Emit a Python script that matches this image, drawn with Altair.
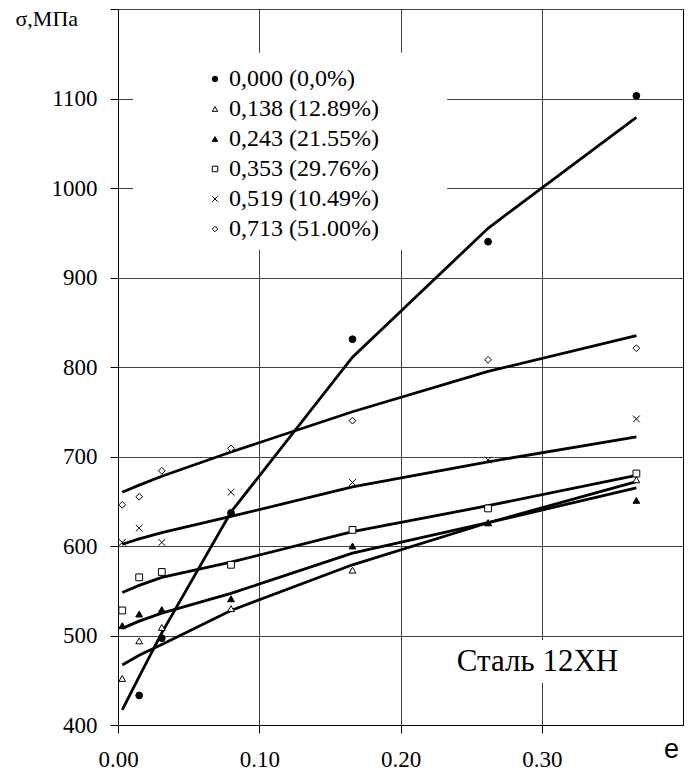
import altair as alt
import pandas as pd

# ---- data ----
strain = [0.003, 0.015, 0.031, 0.080, 0.166, 0.262, 0.367]
series = ["0,000 (0,0%)", "0,138 (12.89%)", "0,243 (21.55%)",
          "0,353 (29.76%)", "0,519 (10.49%)", "0,713 (51.00%)"]

meas_000 = [None, 433, 497, 637, 831, 940, 1103]
meas_138 = [452, 494, 509, 530, 573, 626, 674]
meas_243 = [511, 524, 529, 541, 600, 626, 651]
meas_353 = [528, 565, 571, 579, 618, 642, 681]
meas_519 = [604, 620, 604, 660, 671, 696, 742]
meas_713 = [646, 655, 684, 709, 740, 808, 821]

fit_000 = [417, 454, 503, 638, 811, 955, 1079]
fit_138 = [467, 478, 490, 528, 579, 626, 672]
fit_243 = [508, 516, 525, 547, 592, 626, 665]
fit_353 = [548, 556, 565, 582, 616, 645, 679]
fit_519 = [602, 608, 615, 633, 666, 694, 722]
fit_713 = [660, 668, 678, 705, 750, 795, 835]

x_ticks = [0.0, 0.1, 0.2, 0.3]
y_ticks = [400, 500, 600, 700, 800, 900, 1000, 1100, 1200]
note_text = "Сталь 12ХН"

measured = [meas_000, meas_138, meas_243, meas_353, meas_519, meas_713]
fitted = [fit_000, fit_138, fit_243, fit_353, fit_519, fit_713]

pts = pd.DataFrame([
    {"e": e, "s": v, "series": name}
    for name, vals in zip(series, measured)
    for e, v in zip(strain, vals) if v is not None
])
fits = pd.DataFrame([
    {"e": e, "s": v, "series": name}
    for name, vals in zip(series, fitted)
    for e, v in zip(strain, vals)
])

# ---- styling ----
SERIF = "Liberation Serif, Times New Roman, serif"
SANS = "Liberation Sans, Arial, sans-serif"
xscale = alt.Scale(domain=[0, 0.4], nice=False, zero=False)
yscale = alt.Scale(domain=[400, 1200], nice=False, zero=False)

xaxis = alt.Axis(values=x_ticks, format=".2f", title="e", grid=True,
                 gridColor="#404040", gridWidth=1, domainColor="black",
                 tickColor="black", tickSize=8, labelFont=SERIF,
                 labelFontSize=23, labelColor="black", labelPadding=15,
                 labelFlush=False, labelOverlap=False,
                 titleFont=SANS, titleFontSize=27,
                 titleFontWeight="normal", titleColor="black",
                 titleX=553, titleY=24, titleAlign="center",
                 titleBaseline="middle")
yaxis = alt.Axis(values=y_ticks, format="d", title="σ,МПа", grid=True,
                 gridColor="#404040", gridWidth=1, domainColor="black",
                 tickColor="black", tickSize=8, labelFont=SERIF,
                 labelFontSize=23, labelColor="black", labelPadding=13,
                 labelExpr="datum.value == 1200 ? '' : datum.label",
                 labelFlush=False, labelOverlap=False,
                 titleFont=SERIF, titleFontSize=22, titleFontWeight="normal",
                 titleColor="black", titleAngle=0, titleX=-103, titleY=9,
                 titleAlign="left", titleBaseline="middle")

X = alt.X("e:Q", scale=xscale, axis=xaxis)
Y = alt.Y("s:Q", scale=yscale, axis=yaxis)

# white panels behind the legend and the note (annotation boxes)
boxes = pd.DataFrame([
    {"e": 0.0106, "e2": 0.233, "s": 931, "s2": 1151},
    {"e": 0.238, "e2": 0.366, "s": 447, "s2": 495},
])
box_layer = alt.Chart(boxes).mark_rect(fill="white", stroke=None).encode(
    x=X, x2="e2:Q", y=Y, y2="s2:Q")

line_layer = alt.Chart(fits).mark_line(color="black", strokeWidth=2.8).encode(
    x=X, y=Y, detail="series:N")

shapes = ["circle", "triangle-up", "triangle-up", "square",
          "M-1,-1L1,1M-1,1L1,-1", "diamond"]
fills = ["black", "white", "black", "white", "black", "white"]
strokes = ["black"] * 6
legend = alt.Legend(orient="none", legendX=85, legendY=58, title=None,
                    labelFont=SERIF, labelFontSize=24, labelColor="black",
                    symbolSize=30, symbolStrokeWidth=1,
                    rowPadding=6, labelOffset=2,
                    padding=0, labelLimit=400)

point_layer = alt.Chart(pts).mark_point(
    strokeWidth=1, size=46, opacity=1, fillOpacity=1).encode(
    x=X, y=Y,
    shape=alt.Shape("series:N", scale=alt.Scale(domain=series, range=shapes),
                    legend=legend),
    fill=alt.Fill("series:N", scale=alt.Scale(domain=series, range=fills),
                  legend=legend),
    stroke=alt.Stroke("series:N", scale=alt.Scale(domain=series, range=strokes),
                      legend=legend),
)

note = pd.DataFrame([{"e": 0.297, "s": 470, "t": note_text}])
note_layer = alt.Chart(note).mark_text(
    font=SERIF, fontSize=31, color="black", align="center",
    baseline="middle").encode(x=X, y=Y, text="t:N")

chart = alt.layer(box_layer, line_layer, point_layer, note_layer).properties(
    width=565, height=716,
    autosize=alt.AutoSizeParams(type="none"),
    padding={"left": 118, "top": 9, "right": 13, "bottom": 47},
    background="white",
).configure_view(stroke="black", strokeWidth=1)

chart.save("out.html", embed_options={"renderer": "svg", "actions": False})
